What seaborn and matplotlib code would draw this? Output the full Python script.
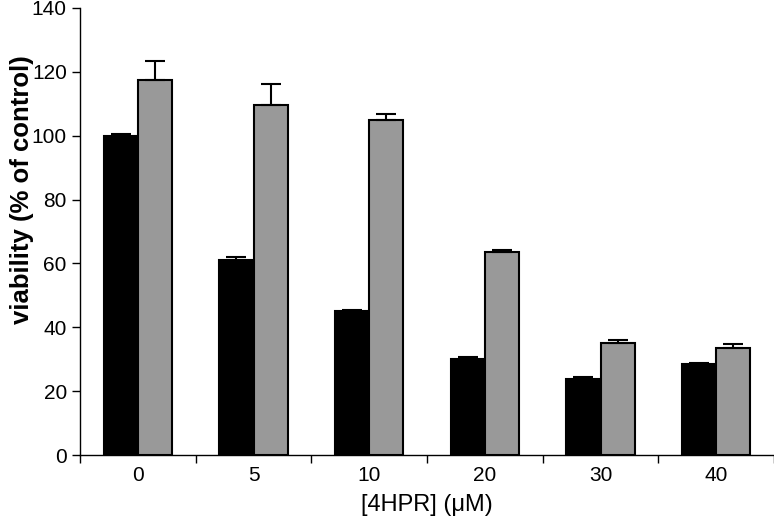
import matplotlib
matplotlib.use("Agg")
import matplotlib.pyplot as plt
import numpy as np
import pandas as pd
import seaborn as sns

# Data
doses = ["0", "5", "10", "20", "30", "40"]
series = ["A", "B"]
viability_a = [100.0, 61.2, 45.0, 30.2, 23.8, 28.4]
viability_b = [117.5, 109.5, 105.0, 63.5, 35.0, 33.6]
err_a = [0.5, 0.8, 0.5, 0.5, 0.5, 0.4]
err_b = [6.0, 6.8, 1.8, 0.8, 0.9, 1.3]

df = pd.DataFrame({
    "dose": doses * 2,
    "group": ["A"] * len(doses) + ["B"] * len(doses),
    "viability": viability_a + viability_b,
    "err": err_a + err_b,
})

sns.set_style("white")
plt.rcParams["font.family"] = ["Liberation Sans", "DejaVu Sans"]
plt.rcParams["text.color"] = "black"
plt.rcParams["axes.labelcolor"] = "black"
plt.rcParams["xtick.color"] = "black"
plt.rcParams["ytick.color"] = "black"

fig = plt.figure(figsize=(7.74, 5.18), dpi=100)
ax = fig.add_axes([0.1034, 0.1216, 0.8966, 0.863])

sns.barplot(data=df, x="dose", y="viability", hue="group", order=doses,
            hue_order=series, palette=["#000000", "#999999"],
            edgecolor="black", linewidth=1.5, width=0.59, errorbar=None,
            legend=False, ax=ax)

# Upper-only error bars placed on the drawn bars
for container, grp in zip(ax.containers, series):
    sub = df[df["group"] == grp].set_index("dose").loc[doses]
    xs = [p.get_x() + p.get_width() / 2 for p in container.patches]
    errs = sub["err"].values
    ax.errorbar(xs, sub["viability"].values, yerr=[np.zeros_like(errs), errs],
                fmt="none", ecolor="black", elinewidth=1.5, capsize=7,
                capthick=1.5)

ax.set_ylim(0, 140)
ax.set_xlim(-0.5, 5.5)
ax.set_yticks(np.arange(0, 141, 20))
ax.set_xlabel("[4HPR] (\u03bcM)", fontsize=17)
ax.set_ylabel("viability (% of control)", fontsize=18.5, fontweight="bold")
ax.yaxis.set_label_coords(-0.067, 0.593)
ax.xaxis.set_label_coords(0.5, -0.088)
ax.tick_params(axis="both", labelsize=15, colors="black")
ax.tick_params(axis="x", which="major", length=0, pad=8)
ax.tick_params(axis="y", length=6, width=1, direction="out", left=True)
ax.set_xticks(np.arange(-0.5, 6.0, 1.0), minor=True)
ax.tick_params(axis="x", which="minor", length=6, width=1, direction="out",
               bottom=True)

for side in ["top", "right"]:
    ax.spines[side].set_visible(False)
for side in ["left", "bottom"]:
    ax.spines[side].set_color("black")
    ax.spines[side].set_linewidth(1)

plt.savefig("out.png", dpi=100)
